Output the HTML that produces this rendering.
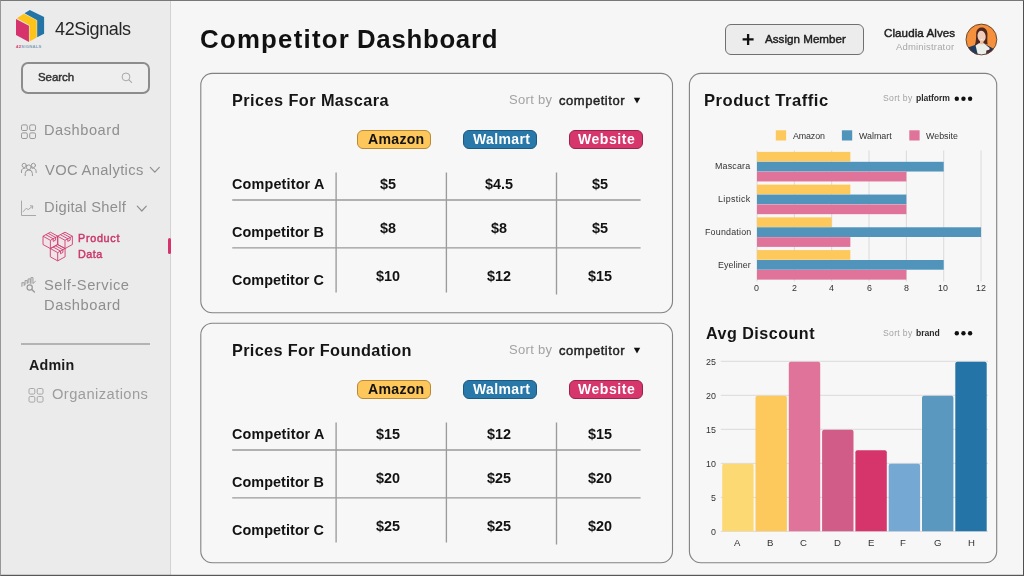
<!DOCTYPE html>
<html>
<head>
<meta charset="utf-8">
<title>Competitor Dashboard</title>
<style>
*{box-sizing:border-box;margin:0;padding:0}
html,body{width:1024px;height:576px;overflow:hidden}
body{font-family:"Liberation Sans",sans-serif;background:#f6f6f6;position:relative;color:#1a1a1a}
.abs{position:absolute}
svg{position:absolute;overflow:visible}
.t{position:absolute;white-space:nowrap;line-height:1;will-change:transform}
#frame{position:absolute;left:0;top:0;width:1024px;height:576px;border-style:solid;border-width:1px;border-color:#787878 #505050 #585858 #979797;z-index:50;pointer-events:none}
#side{position:absolute;left:0;top:0;width:171px;height:576px;background:#ebebeb;border-right:1px solid #d2d2d2}
.card{position:absolute;border:1px solid #808080;border-radius:12px;background:#f6f6f6}
.badge{position:absolute;height:19px;border-radius:6px;border:1px solid}
.hl{position:absolute;height:1px;background:#a2a2a2}
.vl{position:absolute;width:1px;background:#a2a2a2}
.gv{position:absolute;width:1px;background:#dcdcdc}
.gh{position:absolute;height:1px;background:#dcdcdc}
.hb{position:absolute;height:9.6px;left:757px}
.vb{position:absolute;width:31.4px;border-radius:2px 2px 0 0}
.sq{position:absolute;width:10px;height:10px}
.dot{position:absolute;width:4.6px;height:4.6px;border-radius:50%;background:#111}
</style>
</head>
<body>
<div id="side"></div>
<div class="abs" style="left:0;top:574px;width:1024px;height:1px;background:rgba(60,60,60,0.18);z-index:49"></div>
<svg style="left:0;top:0" width="60" height="52" viewBox="0 0 60 52">
<polygon points="24.5,13.2 29.8,9.9 44.1,17 44.1,33.7 37.2,37.3 37.2,20.2" fill="#2474a6"/>
<polygon points="16.8,18.2 23.9,13.7 36.7,20.3 36.7,37.6 29.5,41.6 29.5,25.3" fill="#fcc419"/>
<polygon points="16,18.9 28.95,25.8 28.95,42 16,35" fill="#d6336c"/>
<text x="16.1" y="47.7" font-family="Liberation Sans" font-size="4.1" font-weight="bold" letter-spacing="0.3" fill="#7f9db5"><tspan fill="#d6336c">42</tspan>SIGNALS</text>
</svg>
<div class="abs" style="left:21px;top:62px;width:129px;height:32px;border:2px solid #8c8c8c;border-radius:7px;background:#eeeeee"></div>
<svg style="left:118px;top:69px" width="18" height="18" viewBox="118 69 18 18"><circle cx="126" cy="76.9" r="3.9" fill="none" stroke="#a8a8a8" stroke-width="1"/><path d="M128.9 79.8 L131.6 82.4" stroke="#a8a8a8" stroke-width="1.1" stroke-linecap="round"/></svg>
<svg style="left:0;top:0" width="171" height="576" viewBox="0 0 171 576" fill="none" stroke="#9a9a9a" stroke-width="1"><rect x="21.5" y="124.9" width="5.8" height="5.6" rx="1.3"/><rect x="21.5" y="132.9" width="5.8" height="5.6" rx="1.3"/><rect x="29.7" y="124.9" width="5.8" height="5.6" rx="1.3"/><rect x="29.7" y="132.9" width="5.8" height="5.6" rx="1.3"/></svg>
<svg style="left:0;top:0" width="171" height="576" viewBox="0 0 171 576" fill="none" stroke="#a6a6a6" stroke-width="1"><rect x="29.0" y="388.5" width="5.8" height="5.6" rx="1.3"/><rect x="29.0" y="396.5" width="5.8" height="5.6" rx="1.3"/><rect x="37.2" y="388.5" width="5.8" height="5.6" rx="1.3"/><rect x="37.2" y="396.5" width="5.8" height="5.6" rx="1.3"/></svg>
<svg style="left:0;top:0" width="171" height="576" viewBox="0 0 171 576" fill="none" stroke="#9a9a9a" stroke-width="1" stroke-linecap="round">
<circle cx="28.8" cy="167.3" r="2.4"/><path d="M25.2 175.6 V173.6 a3.6 3.6 0 0 1 7.2 0 V175.6"/>
<circle cx="24.2" cy="165.4" r="2.1"/><path d="M21.5 172.6 V171 a2.9 2.9 0 0 1 3.6 -2.8"/>
<circle cx="33.4" cy="165.4" r="2.1"/><path d="M36.1 172.6 V171 a2.9 2.9 0 0 0 -3.6 -2.8"/>
</svg>
<svg style="left:0;top:0" width="171" height="576" viewBox="0 0 171 576" fill="none" stroke="#8f8f8f" stroke-width="1.2" stroke-linecap="round" stroke-linejoin="round">
<path d="M150.3 167.4 L154.8 172.2 L159.3 167.4"/><path d="M137.3 206.2 L141.8 211 L146.3 206.2"/></svg>
<svg style="left:0;top:0" width="171" height="576" viewBox="0 0 171 576" fill="none" stroke="#a8a8a8" stroke-width="1" stroke-linecap="round" stroke-linejoin="round">
<path d="M21.5 201 V215.5 H35.6"/><path d="M23.2 211.6 L26.2 208.3 L28.2 209.6 L32.6 206.2"/><path d="M30.4 205.8 L32.8 206 L32.4 208.4"/></svg>
<svg style="left:0;top:0" width="171" height="576" viewBox="0 0 171 576" fill="none" stroke="#cf3d70" stroke-width="0.9" stroke-linejoin="round"><polygon points="50.4,232.2 57.8,236.2 57.8,244.5 50.4,248.6 43.0,244.5 43.0,236.2" fill="#efe5e8" stroke="none"/><polygon points="65,232.2 72.4,236.2 72.4,244.5 65,248.6 57.6,244.5 57.6,236.2" fill="#efe5e8" stroke="none"/><polygon points="57.7,244.5 65.10000000000001,248.5 65.10000000000001,256.8 57.7,260.9 50.300000000000004,256.8 50.300000000000004,248.5" fill="#efe5e8" stroke="none"/><path d="M50.4,232.2 L57.8,236.2 L57.8,244.5 L50.4,248.6 L43.0,244.5 L43.0,236.2 Z M43.0,236.2 L50.4,240.29999999999998 L57.8,236.2 M50.4,240.29999999999998 L50.4,248.6 M48.199999999999996,233.39999999999998 L55.6,237.45 M45.8,234.7 L53.199999999999996,238.75 M53.199999999999996,238.75 L53.199999999999996,241.39999999999998 L55.6,240.1 L55.6,237.45 M65,232.2 L72.4,236.2 L72.4,244.5 L65,248.6 L57.6,244.5 L57.6,236.2 Z M57.6,236.2 L65,240.29999999999998 L72.4,236.2 M65,240.29999999999998 L65,248.6 M62.8,233.39999999999998 L70.2,237.45 M60.4,234.7 L67.8,238.75 M67.8,238.75 L67.8,241.39999999999998 L70.2,240.1 L70.2,237.45 M57.7,244.5 L65.10000000000001,248.5 L65.10000000000001,256.8 L57.7,260.9 L50.300000000000004,256.8 L50.300000000000004,248.5 Z M50.300000000000004,248.5 L57.7,252.6 L65.10000000000001,248.5 M57.7,252.6 L57.7,260.9 M55.5,245.7 L62.900000000000006,249.75 M53.1,247.0 L60.5,251.05 M60.5,251.05 L60.5,253.7 L62.900000000000006,252.4 L62.900000000000006,249.75 "/></svg>
<div class="abs" style="left:167.8px;top:237.6px;width:3px;height:16.8px;background:#d6336c;border-radius:1.5px"></div>
<svg style="left:0;top:0" width="171" height="576" viewBox="0 0 171 576" fill="none" stroke="#a2a2a2" stroke-width="1" stroke-linecap="round" stroke-linejoin="round">
<path d="M21.9 286.4 V282.6 H24.3 V285.4 M25 284.7 V280.5 H27.3 V283.4 M28.1 282.9 V278.9 H30.3 V283.2 M30.9 283.4 V277.6 H33 V283.4 M33.4 283 L35.4 281.4" fill="#dcdcdc"/>
<circle cx="29.7" cy="287.4" r="2.6" stroke="#9a9a9a" stroke-width="1.25" fill="#ebebeb"/><path d="M31.8 289.5 L34.4 292.1" stroke="#9a9a9a" stroke-width="1.4"/></svg>
<div class="abs" style="left:21px;top:342.5px;width:128.6px;height:2px;background:#b4b4b4"></div>
<div class="abs" style="left:724.5px;top:23.5px;width:139px;height:31.5px;border:1px solid #707070;border-radius:6px;background:#ececec"></div>
<svg style="left:740px;top:32px" width="16" height="16" viewBox="740 32 16 16"><path d="M748.1 33.9 V44.9 M742.6 39.4 H753.6" stroke="#111" stroke-width="2.3"/></svg>
<svg style="left:964px;top:22px" width="36" height="36" viewBox="964 22 36 36">
<defs><clipPath id="av"><circle cx="981.4" cy="39.5" r="15.4"/></clipPath></defs>
<circle cx="981.4" cy="39.5" r="15.4" fill="#f5913d"/>
<g clip-path="url(#av)">
<path d="M976.2 33.4 C976.4 25.8 987 25.4 987.4 33.6 C987.6 37 987 40.5 987.6 44.6 L984 43.5 L979 43.5 L974.6 45.8 C976.3 41.5 976 37 976.2 33.4 Z" fill="#4f271d"/>
<path d="M968 47.6 L974.8 45 L978.5 43.4 L984 43.4 L989 46.2 L995 49.5 L993 58 L968 58 Z" fill="#203a5f"/>
<path d="M975.6 45.4 L979 43.2 L983.8 43.2 L989.6 48 L988.6 56.5 L978.2 56.5 Z" fill="#eceee8"/>
<ellipse cx="981.6" cy="36.3" rx="4.1" ry="5.6" fill="#efcdba" transform="rotate(-8 981.6 36.3)"/>
<path d="M980 41 h3.4 v3.2 h-3.4 Z" fill="#e6bfa9"/>
<path d="M979.6 38.9 Q981.6 40.7 983.7 38.4 Q981.7 39.6 979.6 38.9 Z" fill="#fff"/>
<path d="M986.4 50.6 L992 49 L991.4 53 L986 54 Z" fill="#4a2a3c"/>
</g>
<circle cx="981.4" cy="39.5" r="15.4" fill="none" stroke="#5e3d2a" stroke-width="0.9"/>
</svg>
<svg style="left:0;top:0" width="1024" height="576" viewBox="0 0 1024 576" fill="#f7f7f7" stroke="#828282" stroke-width="1.1"><rect x="200.8" y="73.4" width="471.7" height="239.4" rx="11.5"/><rect x="200.8" y="323.3" width="471.7" height="239.5" rx="11.5"/><rect x="689.4" y="73.4" width="307.3" height="489.4" rx="11.5"/></svg>
<div class="badge" style="left:357px;top:130px;width:74px;background:#fdc75c;border-color:#b98a35"></div>
<div class="badge" style="left:463px;top:130px;width:74px;background:#2878a9;border-color:#1c5980"></div>
<div class="badge" style="left:569px;top:130px;width:74px;background:#d6366b;border-color:#98244a"></div>
<svg style="left:632px;top:96px" width="10" height="10" viewBox="0 0 10 10"><polygon points="1.8,1.8 8.2,1.8 5,7.6" fill="#111"/></svg>
<div class="badge" style="left:357px;top:380px;width:74px;background:#fdc75c;border-color:#b98a35"></div>
<div class="badge" style="left:463px;top:380px;width:74px;background:#2878a9;border-color:#1c5980"></div>
<div class="badge" style="left:569px;top:380px;width:74px;background:#d6366b;border-color:#98244a"></div>
<svg style="left:632px;top:346px" width="10" height="10" viewBox="0 0 10 10"><polygon points="1.8,1.8 8.2,1.8 5,7.6" fill="#111"/></svg>
<svg style="left:0;top:0" width="1024" height="576" viewBox="0 0 1024 576" stroke="#9b9b9b" stroke-width="1.35" fill="none"><path d="M232.2 200 H640.6 M232.2 247.9 H640.6 M336.1 172.4 V292.6 M446.4 172.4 V292.4 M556.5 172.4 V294.4"/><path d="M232.2 450 H640.6 M232.2 497.9 H640.6 M336.1 422.4 V542.6 M446.4 422.4 V542.4 M556.5 422.4 V544.4"/></svg>
<svg style="left:0;top:0" width="1024" height="576" viewBox="0 0 1024 576"><circle cx="956.80" cy="98.75" r="2.2" fill="#111"/><circle cx="963.45" cy="98.75" r="2.2" fill="#111"/><circle cx="970.10" cy="98.75" r="2.2" fill="#111"/><circle cx="956.80" cy="333.2" r="2.2" fill="#111"/><circle cx="963.45" cy="333.2" r="2.2" fill="#111"/><circle cx="970.10" cy="333.2" r="2.2" fill="#111"/><rect x="775.8" y="130.3" width="10.3" height="10.2" fill="#fdc85c"/><rect x="841.9" y="130.3" width="10.3" height="10.2" fill="#5093bb"/><rect x="909.3" y="130.3" width="10.3" height="10.2" fill="#e07399"/><path d="M757.00 150.5 V281.5" stroke="#dadada" stroke-width="1"/><path d="M794.34 150.5 V281.5" stroke="#dadada" stroke-width="1"/><path d="M831.68 150.5 V281.5" stroke="#dadada" stroke-width="1"/><path d="M869.02 150.5 V281.5" stroke="#dadada" stroke-width="1"/><path d="M906.36 150.5 V281.5" stroke="#dadada" stroke-width="1"/><path d="M943.70 150.5 V281.5" stroke="#dadada" stroke-width="1"/><path d="M981.04 150.5 V281.5" stroke="#dadada" stroke-width="1"/><rect x="757" y="151.90" width="93.35" height="9.7" fill="#fdc85c"/><rect x="757" y="161.82" width="186.70" height="9.7" fill="#5093bb"/><rect x="757" y="171.74" width="149.36" height="9.7" fill="#e07399"/><rect x="757" y="184.63" width="93.35" height="9.7" fill="#fdc85c"/><rect x="757" y="194.55" width="149.36" height="9.7" fill="#5093bb"/><rect x="757" y="204.47" width="149.36" height="9.7" fill="#e07399"/><rect x="757" y="217.36" width="74.68" height="9.7" fill="#fdc85c"/><rect x="757" y="227.28" width="224.04" height="9.7" fill="#5093bb"/><rect x="757" y="237.20" width="93.35" height="9.7" fill="#e07399"/><rect x="757" y="250.09" width="93.35" height="9.7" fill="#fdc85c"/><rect x="757" y="260.01" width="186.70" height="9.7" fill="#5093bb"/><rect x="757" y="269.93" width="149.36" height="9.7" fill="#e07399"/><path d="M720.8 531.40 H988" stroke="#dadada" stroke-width="1"/><path d="M720.8 497.38 H988" stroke="#dadada" stroke-width="1"/><path d="M720.8 463.35 H988" stroke="#dadada" stroke-width="1"/><path d="M720.8 429.32 H988" stroke="#dadada" stroke-width="1"/><path d="M720.8 395.30 H988" stroke="#dadada" stroke-width="1"/><path d="M720.8 361.27 H988" stroke="#dadada" stroke-width="1"/><path d="M722.20 531.3 V465.75 Q722.20 463.75 724.20 463.75 H751.60 Q753.60 463.75 753.60 465.75 V531.3 Z" fill="#fdd973"/><path d="M755.50 531.3 V397.70 Q755.50 395.70 757.50 395.70 H784.90 Q786.90 395.70 786.90 397.70 V531.3 Z" fill="#fdc85c"/><path d="M788.80 531.3 V363.67 Q788.80 361.67 790.80 361.67 H818.20 Q820.20 361.67 820.20 363.67 V531.3 Z" fill="#e07399"/><path d="M822.10 531.3 V431.72 Q822.10 429.72 824.10 429.72 H851.50 Q853.50 429.72 853.50 431.72 V531.3 Z" fill="#d05c87"/><path d="M855.40 531.3 V452.14 Q855.40 450.14 857.40 450.14 H884.80 Q886.80 450.14 886.80 452.14 V531.3 Z" fill="#d5356a"/><path d="M888.70 531.3 V465.75 Q888.70 463.75 890.70 463.75 H918.10 Q920.10 463.75 920.10 465.75 V531.3 Z" fill="#75a9d3"/><path d="M922.00 531.3 V397.70 Q922.00 395.70 924.00 395.70 H951.40 Q953.40 395.70 953.40 397.70 V531.3 Z" fill="#5b98c0"/><path d="M955.30 531.3 V363.67 Q955.30 361.67 957.30 361.67 H984.70 Q986.70 361.67 986.70 363.67 V531.3 Z" fill="#2474a7"/></svg>

<!-- TEXT -->
<div class="t" style="left:55px;top:20px;font-size:18px;font-weight:normal;color:#262626;letter-spacing:-0.375px;">42Signals</div>
<div class="t" style="left:38px;top:72px;font-size:11.5px;font-weight:normal;color:#333;-webkit-text-stroke:0.45px #333;letter-spacing:-0.060px;">Search</div>
<div class="t" style="left:44px;top:123px;font-size:14.6px;font-weight:normal;color:#8f8f8f;letter-spacing:0.550px;">Dashboard</div>
<div class="t" style="left:45px;top:163px;font-size:14.7px;font-weight:normal;color:#8f8f8f;letter-spacing:0.367px;">VOC Analytics</div>
<div class="t" style="left:44px;top:200px;font-size:14.7px;font-weight:normal;color:#8f8f8f;letter-spacing:0.283px;">Digital Shelf</div>
<div class="t" style="left:78px;top:233px;font-size:10.8px;font-weight:normal;color:#cb376b;-webkit-text-stroke:0.45px #cb376b;letter-spacing:0.700px;">Product</div>
<div class="t" style="left:78px;top:249px;font-size:10.8px;font-weight:normal;color:#cb376b;-webkit-text-stroke:0.45px #cb376b;letter-spacing:0.467px;">Data</div>
<div class="t" style="left:44px;top:278px;font-size:14.7px;font-weight:normal;color:#8f8f8f;letter-spacing:0.527px;">Self-Service</div>
<div class="t" style="left:44px;top:298px;font-size:14.7px;font-weight:normal;color:#8f8f8f;letter-spacing:0.550px;">Dashboard</div>
<div class="t" style="left:29px;top:358px;font-size:14.3px;font-weight:bold;color:#1a1a1a;letter-spacing:0.175px;">Admin</div>
<div class="t" style="left:52px;top:387px;font-size:14.7px;font-weight:normal;color:#9d9d9d;letter-spacing:0.442px;">Organizations</div>
<div class="t" style="left:200px;top:27px;font-size:25.8px;font-weight:bold;color:#111;letter-spacing:1.256px;">Competitor</div>
<div class="t" style="left:357px;top:27px;font-size:25.8px;font-weight:bold;color:#111;letter-spacing:0.712px;">Dashboard</div>
<div class="t" style="left:765px;top:33px;font-size:11.6px;font-weight:normal;color:#1e1e1e;-webkit-text-stroke:0.45px #1e1e1e;letter-spacing:0.025px;">Assign Member</div>
<div class="t" style="left:884px;top:27px;font-size:11.6px;font-weight:normal;color:#1e1e1e;-webkit-text-stroke:0.45px #1e1e1e;letter-spacing:0.075px;">Claudia Alves</div>
<div class="t" style="left:896px;top:42px;font-size:9.5px;font-weight:normal;color:#a8a8a8;letter-spacing:0.175px;">Administrator</div>
<div class="t" style="left:232px;top:92px;font-size:16.3px;font-weight:bold;color:#151515;letter-spacing:0.429px;">Prices For Mascara</div>
<div class="t" style="left:509px;top:93px;font-size:13px;font-weight:normal;color:#a3a3a3;letter-spacing:0.300px;">Sort by</div>
<div class="t" style="left:559px;top:94px;font-size:13px;font-weight:normal;color:#222;-webkit-text-stroke:0.45px #222;letter-spacing:0.533px;">competitor</div>
<div class="t" style="left:368px;top:132px;font-size:14.1px;font-weight:bold;color:#121212;letter-spacing:0.280px;">Amazon</div>
<div class="t" style="left:473px;top:132px;font-size:14px;font-weight:bold;color:#fff;letter-spacing:0.367px;">Walmart</div>
<div class="t" style="left:578px;top:132px;font-size:14px;font-weight:bold;color:#fff;letter-spacing:0.550px;">Website</div>
<div class="t" style="left:232px;top:177px;font-size:14.4px;font-weight:bold;color:#121212;letter-spacing:0.159px;">Competitor A</div>
<div class="t" style="left:380px;top:177px;font-size:14.4px;font-weight:bold;color:#121212;">$5</div>
<div class="t" style="left:485px;top:177px;font-size:14.4px;font-weight:bold;color:#121212;">$4.5</div>
<div class="t" style="left:592px;top:177px;font-size:14.4px;font-weight:bold;color:#121212;">$5</div>
<div class="t" style="left:232px;top:225px;font-size:14.4px;font-weight:bold;color:#121212;letter-spacing:0.068px;">Competitor B</div>
<div class="t" style="left:380px;top:221px;font-size:14.4px;font-weight:bold;color:#121212;">$8</div>
<div class="t" style="left:491px;top:221px;font-size:14.4px;font-weight:bold;color:#121212;">$8</div>
<div class="t" style="left:592px;top:221px;font-size:14.4px;font-weight:bold;color:#121212;">$5</div>
<div class="t" style="left:232px;top:273px;font-size:14.4px;font-weight:bold;color:#121212;letter-spacing:0.068px;">Competitor C</div>
<div class="t" style="left:376px;top:269px;font-size:14.4px;font-weight:bold;color:#121212;">$10</div>
<div class="t" style="left:487px;top:269px;font-size:14.4px;font-weight:bold;color:#121212;">$12</div>
<div class="t" style="left:588px;top:269px;font-size:14.4px;font-weight:bold;color:#121212;">$15</div>
<div class="t" style="left:232px;top:342px;font-size:16.3px;font-weight:bold;color:#151515;letter-spacing:0.335px;">Prices For Foundation</div>
<div class="t" style="left:509px;top:343px;font-size:13px;font-weight:normal;color:#a3a3a3;letter-spacing:0.300px;">Sort by</div>
<div class="t" style="left:559px;top:344px;font-size:13px;font-weight:normal;color:#222;-webkit-text-stroke:0.45px #222;letter-spacing:0.533px;">competitor</div>
<div class="t" style="left:368px;top:382px;font-size:14.1px;font-weight:bold;color:#121212;letter-spacing:0.280px;">Amazon</div>
<div class="t" style="left:473px;top:382px;font-size:14px;font-weight:bold;color:#fff;letter-spacing:0.367px;">Walmart</div>
<div class="t" style="left:578px;top:382px;font-size:14px;font-weight:bold;color:#fff;letter-spacing:0.550px;">Website</div>
<div class="t" style="left:232px;top:427px;font-size:14.4px;font-weight:bold;color:#121212;letter-spacing:0.159px;">Competitor A</div>
<div class="t" style="left:376px;top:427px;font-size:14.4px;font-weight:bold;color:#121212;">$15</div>
<div class="t" style="left:487px;top:427px;font-size:14.4px;font-weight:bold;color:#121212;">$12</div>
<div class="t" style="left:588px;top:427px;font-size:14.4px;font-weight:bold;color:#121212;">$15</div>
<div class="t" style="left:232px;top:475px;font-size:14.4px;font-weight:bold;color:#121212;letter-spacing:0.068px;">Competitor B</div>
<div class="t" style="left:376px;top:471px;font-size:14.4px;font-weight:bold;color:#121212;">$20</div>
<div class="t" style="left:487px;top:471px;font-size:14.4px;font-weight:bold;color:#121212;">$25</div>
<div class="t" style="left:588px;top:471px;font-size:14.4px;font-weight:bold;color:#121212;">$20</div>
<div class="t" style="left:232px;top:523px;font-size:14.4px;font-weight:bold;color:#121212;letter-spacing:0.068px;">Competitor C</div>
<div class="t" style="left:376px;top:519px;font-size:14.4px;font-weight:bold;color:#121212;">$25</div>
<div class="t" style="left:487px;top:519px;font-size:14.4px;font-weight:bold;color:#121212;">$25</div>
<div class="t" style="left:588px;top:519px;font-size:14.4px;font-weight:bold;color:#121212;">$20</div>
<div class="t" style="left:704px;top:93px;font-size:16.6px;font-weight:bold;color:#151515;letter-spacing:0.507px;">Product Traffic</div>
<div class="t" style="left:883px;top:94px;font-size:8.6px;font-weight:normal;color:#a3a3a3;letter-spacing:0.333px;">Sort by</div>
<div class="t" style="left:916px;top:94px;font-size:8.6px;font-weight:bold;color:#2a2a2a;letter-spacing:-0.071px;">platform</div>
<div class="t" style="left:793px;top:132px;font-size:8.9px;font-weight:normal;color:#323232;letter-spacing:-0.140px;">Amazon</div>
<div class="t" style="left:859px;top:132px;font-size:8.9px;font-weight:normal;color:#323232;letter-spacing:-0.017px;">Walmart</div>
<div class="t" style="left:926px;top:132px;font-size:8.9px;font-weight:normal;color:#323232;">Website</div>
<div class="t" style="left:715px;top:162px;font-size:8.9px;font-weight:normal;color:#323232;letter-spacing:0.183px;">Mascara</div>
<div class="t" style="left:718px;top:195px;font-size:8.9px;font-weight:normal;color:#323232;letter-spacing:0.386px;">Lipstick</div>
<div class="t" style="left:705px;top:228px;font-size:8.9px;font-weight:normal;color:#323232;letter-spacing:0.200px;">Foundation</div>
<div class="t" style="left:718px;top:261px;font-size:8.9px;font-weight:normal;color:#323232;letter-spacing:0.100px;">Eyeliner</div>
<div class="t" style="left:754px;top:284px;font-size:8.9px;font-weight:normal;color:#323232;">0</div>
<div class="t" style="left:792px;top:284px;font-size:8.9px;font-weight:normal;color:#323232;">2</div>
<div class="t" style="left:829px;top:284px;font-size:8.9px;font-weight:normal;color:#323232;">4</div>
<div class="t" style="left:867px;top:284px;font-size:8.9px;font-weight:normal;color:#323232;">6</div>
<div class="t" style="left:904px;top:284px;font-size:8.9px;font-weight:normal;color:#323232;">8</div>
<div class="t" style="left:938px;top:284px;font-size:8.9px;font-weight:normal;color:#323232;">10</div>
<div class="t" style="left:976px;top:284px;font-size:8.9px;font-weight:normal;color:#323232;">12</div>
<div class="t" style="left:706px;top:325px;font-size:16.1px;font-weight:bold;color:#151515;letter-spacing:0.491px;">Avg Discount</div>
<div class="t" style="left:883px;top:329px;font-size:8.6px;font-weight:normal;color:#a3a3a3;letter-spacing:0.333px;">Sort by</div>
<div class="t" style="left:916px;top:329px;font-size:8.6px;font-weight:bold;color:#2a2a2a;letter-spacing:-0.050px;">brand</div>
<div class="t" style="left:711px;top:528px;font-size:8.9px;font-weight:normal;color:#323232;">0</div>
<div class="t" style="left:711px;top:494px;font-size:8.9px;font-weight:normal;color:#323232;">5</div>
<div class="t" style="left:706px;top:460px;font-size:8.9px;font-weight:normal;color:#323232;">10</div>
<div class="t" style="left:706px;top:426px;font-size:8.9px;font-weight:normal;color:#323232;">15</div>
<div class="t" style="left:706px;top:392px;font-size:8.9px;font-weight:normal;color:#323232;">20</div>
<div class="t" style="left:706px;top:358px;font-size:8.9px;font-weight:normal;color:#323232;">25</div>
<div class="t" style="left:734px;top:538px;font-size:9.6px;font-weight:normal;color:#323232;">A</div>
<div class="t" style="left:767px;top:538px;font-size:9.6px;font-weight:normal;color:#323232;">B</div>
<div class="t" style="left:800px;top:538px;font-size:9.6px;font-weight:normal;color:#323232;">C</div>
<div class="t" style="left:834px;top:538px;font-size:9.6px;font-weight:normal;color:#323232;">D</div>
<div class="t" style="left:868px;top:538px;font-size:9.6px;font-weight:normal;color:#323232;">E</div>
<div class="t" style="left:900px;top:538px;font-size:9.6px;font-weight:normal;color:#323232;">F</div>
<div class="t" style="left:934px;top:538px;font-size:9.6px;font-weight:normal;color:#323232;">G</div>
<div class="t" style="left:968px;top:538px;font-size:9.6px;font-weight:normal;color:#323232;">H</div>
<div id="frame"></div>
</body>
</html>
